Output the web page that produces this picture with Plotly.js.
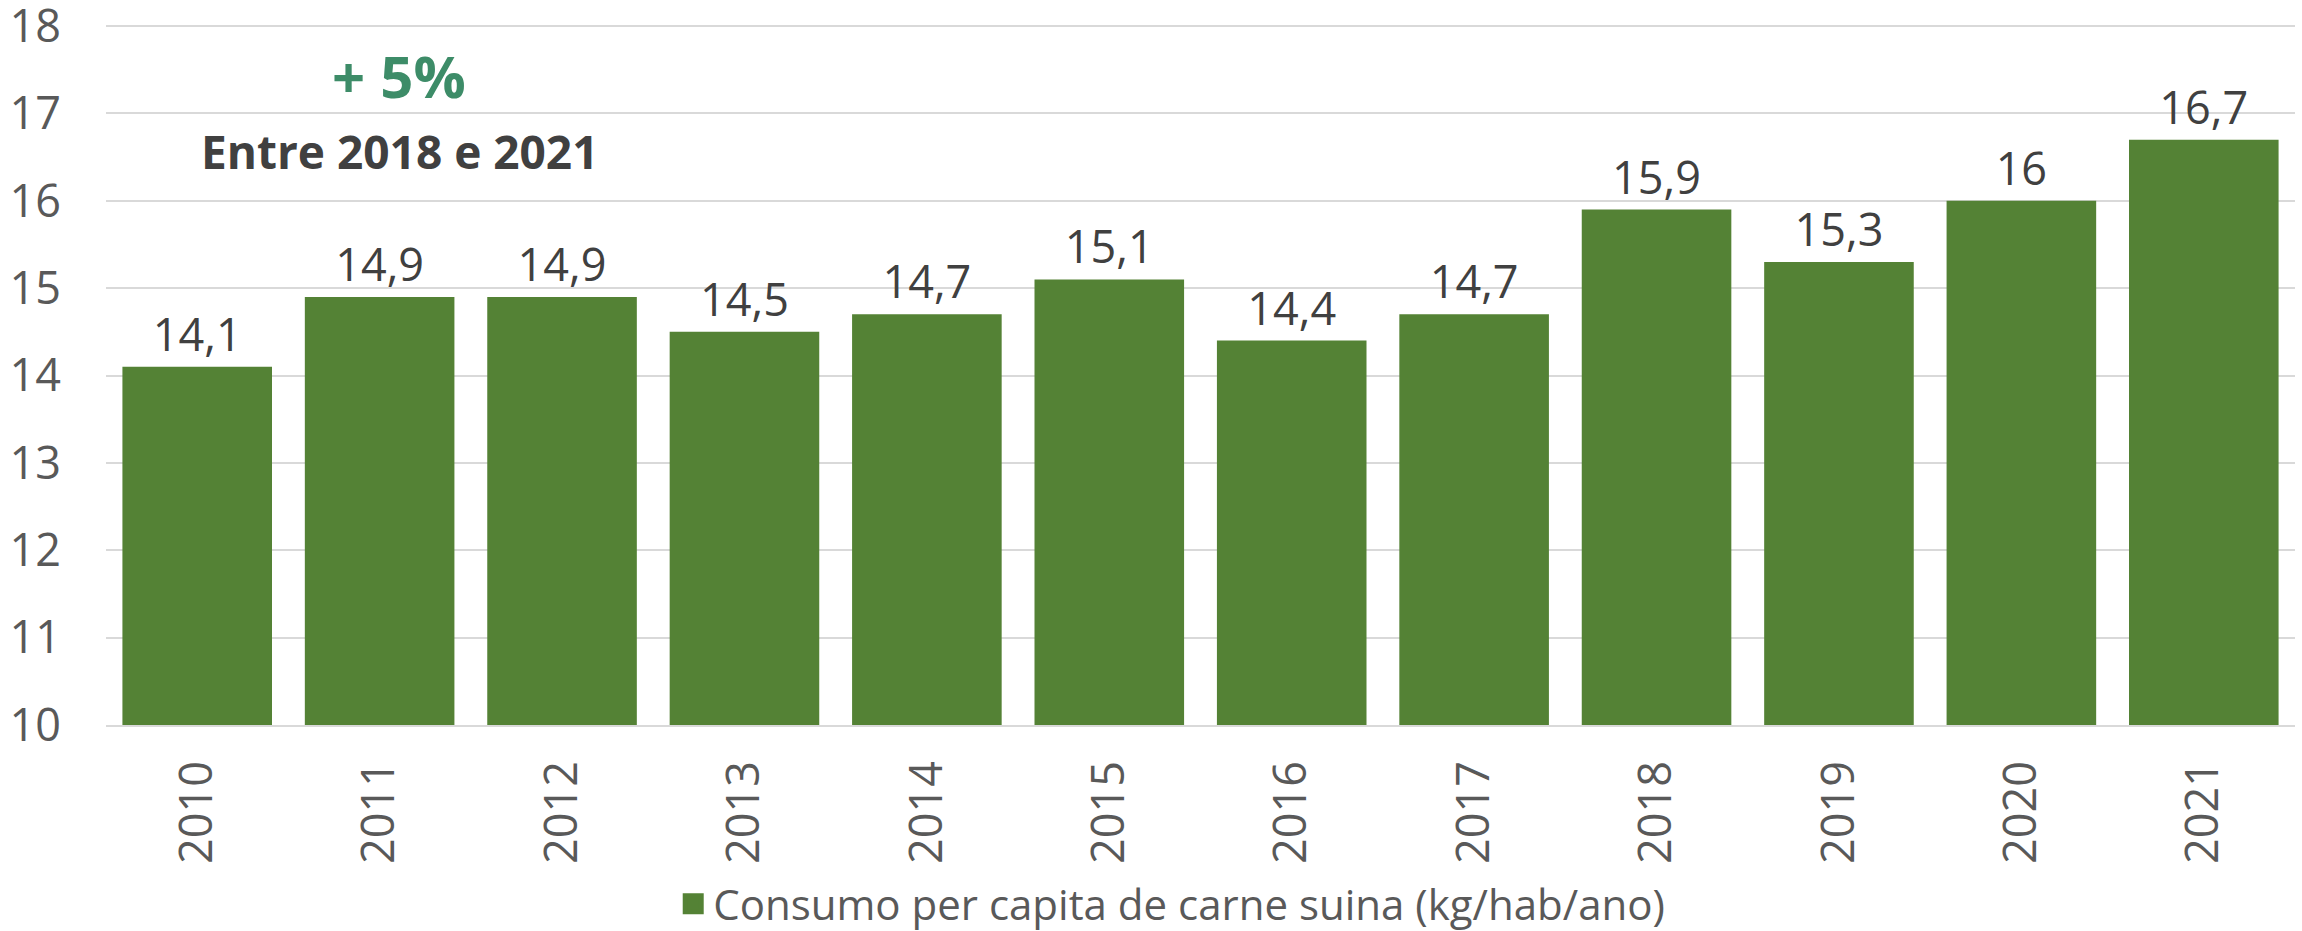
<!DOCTYPE html>
<html>
<head>
<meta charset="utf-8">
<script src="https://cdn.plot.ly/plotly-3.0.1.min.js"></script>
<style>
html,body{margin:0;padding:0;background:#fff;}
#chart{width:2302px;height:931px;}
</style>
</head>
<body>
<div id="chart"></div>
<script>
const years = ['2010','2011','2012','2013','2014','2015','2016','2017','2018','2019','2020','2021'];
const consumo = [14.1, 14.9, 14.9, 14.5, 14.7, 15.1, 14.4, 14.7, 15.9, 15.3, 16.0, 16.7];
const seriesName = 'Consumo per capita de carne suina (kg/hab/ano)';
const highlightValue = '+ 5%';
const highlightText = 'Entre 2018 e 2021';
const yTicks = [10, 11, 12, 13, 14, 15, 16, 17, 18];
const barColor = '#548235';

const trace = {
  type: 'bar',
  x: years,
  y: consumo,
  name: seriesName,
  legendgroup: 'consumo',
  showlegend: false,
  marker: {color: barColor},
  texttemplate: '%{y}',
  textposition: 'outside',
  cliponaxis: false,
  textfont: {family: 'Open Sans', size: 45, color: '#404040'},
  hoverinfo: 'x+y'
};

// legend entry for the bar series (larger square swatch, like the original)
const legendEntry = {
  type: 'scatter',
  mode: 'markers',
  x: [null],
  y: [null],
  name: seriesName,
  legendgroup: 'consumo',
  showlegend: true,
  marker: {symbol: 'square', size: 16, color: barColor, line: {color: barColor, width: 5}},
  hoverinfo: 'skip'
};

const layout = {
  width: 2302,
  height: 931,
  separators: ',.',
  margin: {l: 106, r: 7, t: 23, b: 206},
  paper_bgcolor: '#ffffff',
  plot_bgcolor: '#ffffff',
  font: {family: 'Open Sans', size: 44, color: '#595959'},
  bargap: 0.18,
  showlegend: true,
  legend: {
    orientation: 'h',
    xref: 'container', yref: 'container',
    x: 0.509, xanchor: 'center',
    y: 0.029, yanchor: 'middle',
    font: {family: 'Open Sans', size: 42, color: '#595959'}
  },
  xaxis: {
    type: 'category',
    tickangle: -90,
    ticks: '',
    showgrid: false,
    showline: true,
    linecolor: '#d9d9d9',
    linewidth: 2,
    ticklabelstandoff: 16,
    tickfont: {family: 'Open Sans', size: 45, color: '#595959'},
    automargin: false
  },
  yaxis: {
    range: [10, 18.035],
    tickvals: yTicks,
    showgrid: true,
    gridcolor: '#d9d9d9',
    gridwidth: 2,
    zeroline: false,
    ticks: '',
    ticklabelstandoff: 44,
    ticklabeloverflow: 'allow',
    tickfont: {family: 'Open Sans', size: 45, color: '#595959'},
    automargin: false
  },
  annotations: [
    {
      xref: 'paper', yref: 'y', x: 0.134, y: 17.43,
      text: '<b>' + highlightValue + '</b>', showarrow: false,
      font: {family: 'Open Sans', size: 58, color: '#3d8c68'},
      xanchor: 'center', yanchor: 'middle'
    },
    {
      xref: 'paper', yref: 'y', x: 0.134, y: 16.57,
      text: '<b>' + highlightText + '</b>', showarrow: false,
      font: {family: 'Open Sans', size: 46, color: '#404040'},
      xanchor: 'center', yanchor: 'middle'
    }
  ]
};

Plotly.newPlot('chart', [trace, legendEntry], layout, {displayModeBar: false, staticPlot: true});
</script>
</body>
</html>
